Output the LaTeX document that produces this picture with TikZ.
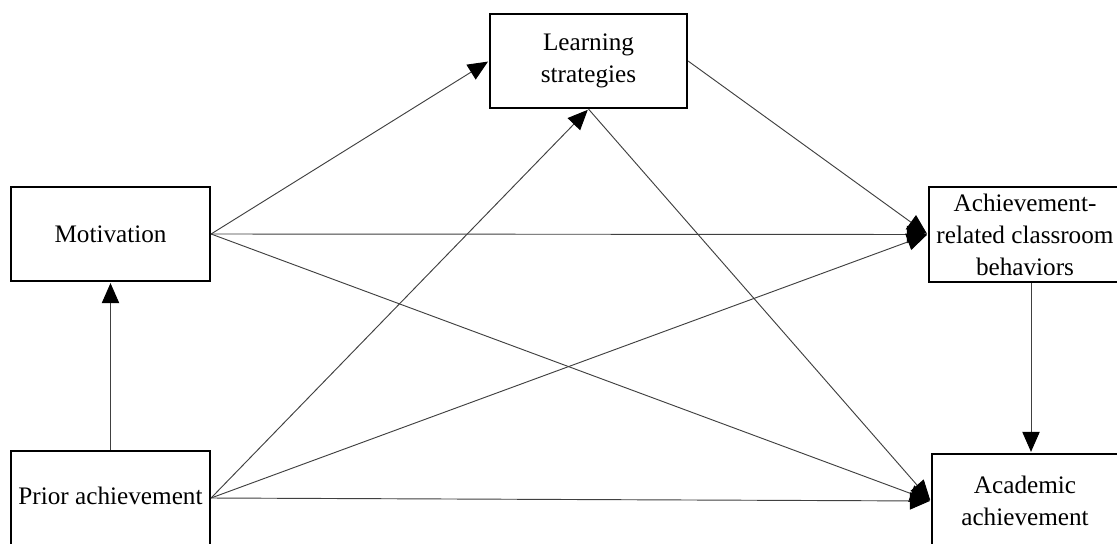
\documentclass[tikz,border=0pt]{standalone}
\usepackage{fontspec}
\setmainfont{Liberation Serif}
\usetikzlibrary{arrows.meta}
\tikzset{
  box/.style={draw=black, line width=1.6pt, fill=white, align=center, inner sep=0pt,
    font=\fontsize{18.9pt}{24pt}\selectfont, text=black},
  link/.style={draw=black!75, line width=0.7pt, -{Triangle[length=15pt,width=13pt,color=black]}, shorten >=0.8pt}
}
\begin{document}
\begin{tikzpicture}[x=0.75pt, y=-0.75pt]
\useasboundingbox (0,0) rectangle (1117,543);
\clip (0,0) rectangle (1117,543);
\fill[white] (0,0) rectangle (1117,543);
\node[box, minimum width=147.75pt, minimum height=70.5pt] (ls) at (588.5,61) {Learning\\strategies};
\node[box, minimum width=149.25pt, minimum height=70.5pt] (mot) at (110.5,234) {Motivation};
\node[box, minimum width=149.25pt, minimum height=70.5pt] (pa) at (110.5,498) {\raisebox{3pt}{Prior achievement}};
\node[box, minimum width=144pt, minimum height=71.25pt] (acb) at (1025,234.5) {Achievement-\\related classroom\\behaviors};
\node[box, minimum width=139.5pt, minimum height=70.5pt] (aa) at (1025,501) {Academic\\achievement};
\draw[link] (mot.east) -- (ls.west);
\draw[link] (mot.east) -- (acb.west);
\draw[link] (mot.east) -- (aa.west);
\draw[link] (pa.north) -- (mot.south);
\draw[link] (pa.east) -- (ls.south);
\draw[link] (pa.east) -- (acb.west);
\draw[link] (pa.east) -- (aa.west);
\draw[link] (ls.east) -- (acb.west);
\draw[link] (ls.south) -- (aa.west);
\draw[link] ([xshift=4.5pt]acb.south) -- ([xshift=4.5pt]aa.north);
\end{tikzpicture}
\end{document}
